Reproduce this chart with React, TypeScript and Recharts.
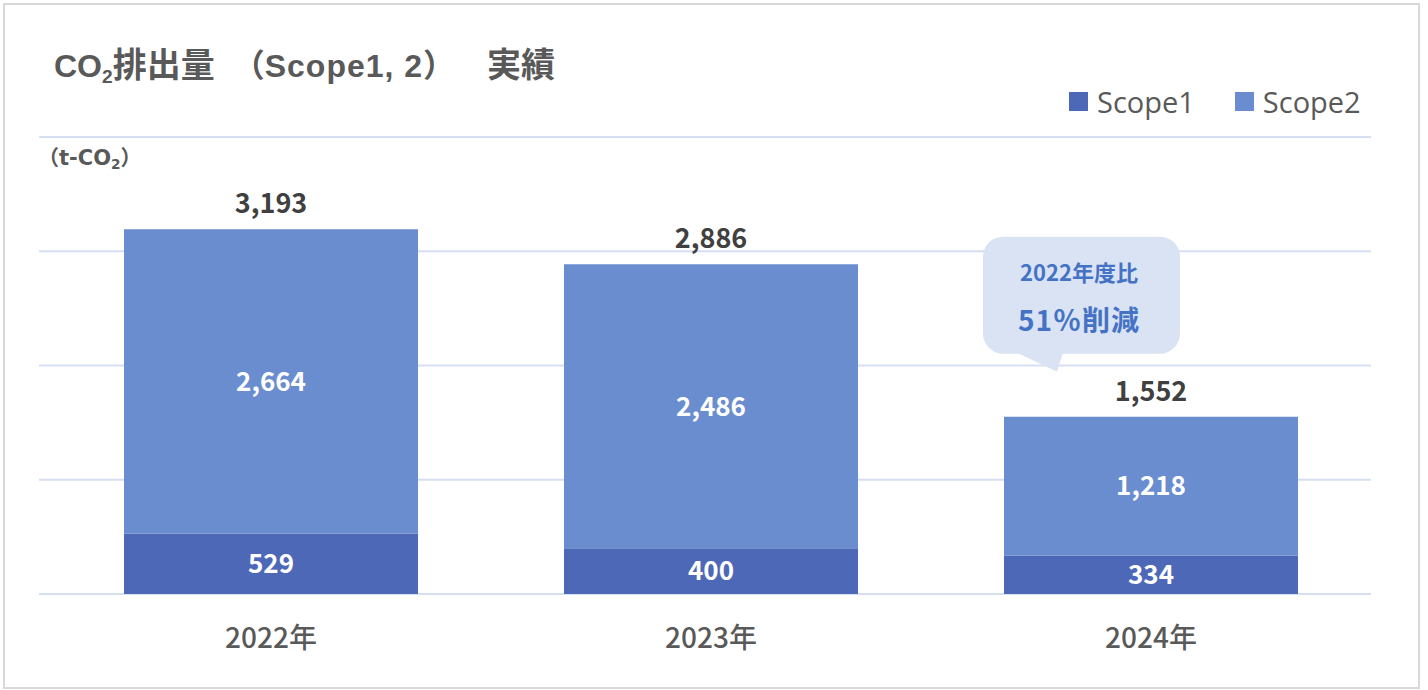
import { Bar, BarChart, CartesianGrid, LabelList, XAxis, YAxis } from 'recharts'

const years = ['2022年', '2023年', '2024年']
const scope1 = [529, 400, 334]
const scope2 = [2664, 2486, 1218]
const totals = [3193, 2886, 1552]
const yTicks = [0, 1000, 2000, 3000, 4000]
const seriesNames = ['Scope1', 'Scope2']
const calloutLines = ['2022年度比', '51％削減']

const data = years.map((year, i) => ({
  year,
  scope1: scope1[i],
  scope2: scope2[i],
  total: totals[i],
}))

const DARK = '#4e68b8'
const LIGHT = '#6a8dcf'
const GRID = '#d6dff1'
const TEXT = '#595959'
const CJK = "'Noto Sans CJK JP', 'Noto Sans', sans-serif"

const fmt = (v: number) => v.toLocaleString('en-US')

function TotalLabel(props: any) {
  const { x, y, width, index } = props
  const cx = x + width / 2
  const last = index === data.length - 1
  return (
    <g>
      <text
        x={cx}
        y={y - 16}
        textAnchor='middle'
        fill='#404040'
        fontSize={27}
        fontWeight='bold'
        fontFamily={CJK}
      >
        {fmt(totals[index])}
      </text>
      {last && (
        <g>
          <rect x={cx - 168} y={y - 180} width={197} height={117} rx={20} fill='#dae3f3' />
          <path
            d={`M ${cx - 134} ${y - 64} L ${cx - 94} ${y - 45} L ${cx - 88} ${y - 64} Z`}
            fill='#dae3f3'
          />
          <text
            x={cx - 72}
            y={y - 136}
            textAnchor='middle'
            fill='#4472c4'
            fontSize={22}
            fontWeight='bold'
            fontFamily={CJK}
          >
            {calloutLines[0]}
          </text>
          <text
            x={cx - 72}
            y={y - 86}
            textAnchor='middle'
            fill='#4472c4'
            fontSize={28}
            fontWeight='bold'
            fontFamily={CJK}
            letterSpacing={1}
          >
            {calloutLines[1]}
          </text>
        </g>
      )}
    </g>
  )
}

export default function App() {
  const cjkTitle = { fontSize: 34, fontFamily: CJK }
  return (
    <div style={{ position: 'relative', width: 1428, height: 690, background: '#fff' }}>
      <style>{'body{margin:0}'}</style>
      <div
        style={{
          position: 'absolute',
          left: 3,
          top: 3,
          width: 1417,
          height: 686,
          border: '2px solid #d9d9d9',
          boxSizing: 'border-box',
        }}
      />
      <div
        style={{
          position: 'absolute',
          left: 54,
          top: 46,
          fontSize: 32,
          lineHeight: '34px',
          fontWeight: 'bold',
          color: TEXT,
          fontFamily: "'Liberation Sans', Arial, 'Noto Sans CJK JP', sans-serif",
          whiteSpace: 'nowrap',
        }}
      >
        CO<span style={{ fontSize: '0.6em', verticalAlign: '-0.3em' }}>2</span>
        <span style={cjkTitle}>排出量</span>
        <span style={{ marginLeft: 18 }}>（</span>
        <span style={{ letterSpacing: 1 }}>Scope1, 2</span>）
        <span style={{ ...cjkTitle, marginLeft: 32 }}>実績</span>
      </div>
      <div
        style={{
          position: 'absolute',
          left: 1069,
          top: 82,
          display: 'flex',
          alignItems: 'center',
          fontFamily: "'Open Sans', 'Noto Sans', sans-serif",
          fontSize: 29,
          color: TEXT,
          whiteSpace: 'nowrap',
        }}
      >
        {seriesNames.map((name, i) => (
          <div key={name} style={{ display: 'flex', alignItems: 'center', marginRight: i === 0 ? 40 : 0 }}>
            <span
              style={{
                display: 'inline-block',
                width: 19,
                height: 19,
                background: i === 0 ? DARK : LIGHT,
                marginRight: 9,
              }}
            />
            {name}
          </div>
        ))}
      </div>
      <div
        style={{
          position: 'absolute',
          left: 38,
          top: 145,
          fontSize: 21,
          lineHeight: '26px',
          fontWeight: 'bold',
          color: TEXT,
          fontFamily: "'DejaVu Sans', 'Noto Sans CJK JP', sans-serif",
          whiteSpace: 'nowrap',
        }}
      >
        （t-CO<span style={{ fontSize: '0.65em', verticalAlign: '-0.3em' }}>2</span>）
      </div>
      <div style={{ position: 'absolute', left: 0, top: 0 }}>
        <BarChart
          width={1428}
          height={690}
          data={data}
          margin={{ top: 137, right: 57, bottom: 66, left: 39 }}
          style={{ fontFamily: CJK }}
        >
          <CartesianGrid vertical={false} stroke={GRID} strokeWidth={2} />
          <YAxis hide domain={[0, 4000]} ticks={yTicks} />
          <XAxis
            dataKey='year'
            axisLine={false}
            tickLine={false}
            tickMargin={28}
            padding={{ left: 12, right: 0 }}
            tick={{ fill: TEXT, fontSize: 28, fontWeight: 500 }}
          />
          <Bar dataKey='scope1' stackId='a' fill={DARK} barSize={294} isAnimationActive={false}>
            <LabelList
              dataKey='scope1'
              position='center'
              fill='#fff'
              fontSize={26}
              fontWeight='bold'
              formatter={(v: any) => fmt(Number(v))}
            />
          </Bar>
          <Bar dataKey='scope2' stackId='a' fill={LIGHT} barSize={294} isAnimationActive={false}>
            <LabelList
              dataKey='scope2'
              position='center'
              fill='#fff'
              fontSize={26}
              fontWeight='bold'
              formatter={(v: any) => fmt(Number(v))}
            />
            <LabelList dataKey='total' content={<TotalLabel />} />
          </Bar>
        </BarChart>
      </div>
    </div>
  )
}
